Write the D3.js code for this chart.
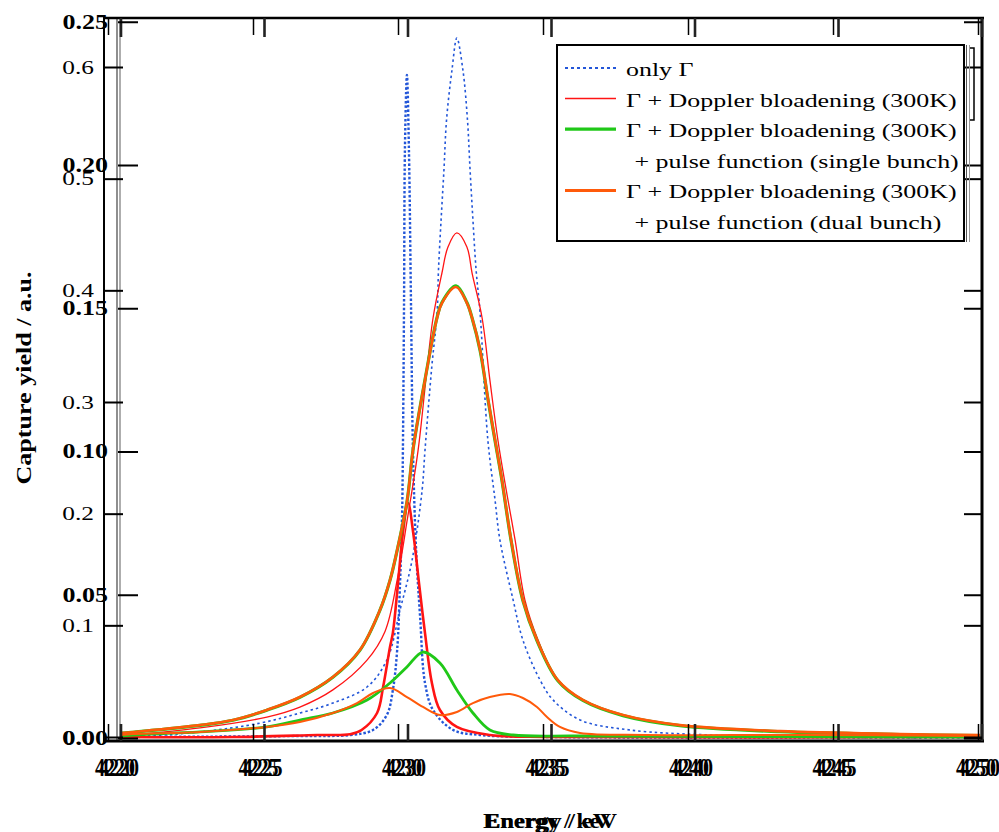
<!DOCTYPE html>
<html>
<head>
<meta charset="utf-8">
<script src="https://cdn.jsdelivr.net/npm/d3@7"></script>
<style>
  body { margin: 0; background: #fff; }
  svg { display: block; }
</style>
</head>
<body>
<svg id="chart" width="999" height="832"></svg>
<script>
"use strict";

// tick values and labels (two overlaid plot frames)
const xTicks = [4220, 4225, 4230, 4235, 4240, 4245, 4250];
const xLabels = ["4220", "4225", "4230", "4235", "4240", "4245", "4250"];
const yTicksA = [0, 0.1, 0.2, 0.3, 0.4, 0.5, 0.6];
const yLabelsA = ["0.0", "0.1", "0.2", "0.3", "0.4", "0.5", "0.6"];
const yTicksB = [0, 0.05, 0.1, 0.15, 0.2, 0.25];
const yLabelsB = ["0.00", "0.05", "0.10", "0.15", "0.20", "0.25"];

const legendLabels = [
  ["only Γ"],
  ["Γ + Doppler bloadening (300K)"],
  ["Γ + Doppler bloadening (300K)", " + pulse function (single bunch)"],
  ["Γ + Doppler bloadening (300K)", " + pulse function (dual bunch)"],
];

// broad resonance (right axis scale 0 - 0.25): [energy eV, yield]
const onlyGammaWide = [
  [4220.0, 0.0003], [4220.44, 0.0004], [4222.77, 0.0021], [4224.86, 0.0052],
  [4226.25, 0.0087], [4227.4, 0.0122], [4228.59, 0.0178], [4229.28, 0.0272],
  [4229.74, 0.0447], [4230.16, 0.0621], [4230.51, 0.0866], [4230.61, 0.1005],
  [4230.85, 0.13], [4231.03, 0.1483], [4231.08, 0.1634], [4231.17, 0.1808],
  [4231.27, 0.1983], [4231.36, 0.2157], [4231.55, 0.2332], [4231.72, 0.2443],
  [4231.93, 0.2332], [4232.09, 0.2157], [4232.18, 0.1983], [4232.28, 0.1808],
  [4232.39, 0.1634], [4232.53, 0.1483], [4232.8, 0.104], [4233.05, 0.0831],
  [4233.22, 0.0691], [4233.68, 0.0482], [4234.02, 0.0342], [4234.62, 0.0202],
  [4235.07, 0.0133], [4236.01, 0.0063], [4237.75, 0.0028], [4240.64, 0.001],
  [4243.68, 0.0003], [4249.95, 0.0],
];
const dopplerWide = [
  [4220.0, 0.0007], [4222.77, 0.0035], [4225.1, 0.0073], [4226.25, 0.0108],
  [4227.4, 0.0168], [4228.59, 0.0272], [4229.22, 0.0373], [4229.64, 0.0551],
  [4229.99, 0.0761], [4230.37, 0.1005], [4230.64, 0.125], [4230.89, 0.1466],
  [4231.2, 0.1623], [4231.41, 0.1714], [4231.72, 0.1763], [4232.07, 0.1714],
  [4232.25, 0.1623], [4232.6, 0.1466], [4232.87, 0.125], [4233.15, 0.104],
  [4233.5, 0.0831], [4233.75, 0.0691], [4234.09, 0.0482], [4234.55, 0.0342],
  [4235.24, 0.0202], [4236.11, 0.0133], [4237.51, 0.008], [4239.49, 0.0045],
  [4242.98, 0.0024], [4247.16, 0.0014], [4249.95, 0.0007],
];
const singleWide = [
  [4220.0, 0.0016], [4220.44, 0.002], [4222.77, 0.0044], [4223.92, 0.0062],
  [4225.1, 0.0097], [4226.25, 0.0142], [4227.4, 0.0212], [4228.34, 0.0306],
  [4229.04, 0.0446], [4229.39, 0.055], [4229.64, 0.0655], [4229.99, 0.083],
  [4230.19, 0.1004], [4230.61, 0.1251], [4231.03, 0.1468], [4231.2, 0.152],
  [4231.69, 0.1578], [4232.07, 0.152], [4232.25, 0.1466], [4232.53, 0.1352],
  [4232.81, 0.1178], [4233.05, 0.1038], [4233.29, 0.0899], [4233.61, 0.0689],
  [4234.02, 0.048], [4234.51, 0.034], [4235.24, 0.02], [4236.11, 0.0131],
  [4237.51, 0.0078], [4239.49, 0.0043], [4242.98, 0.0022], [4247.16, 0.0012],
  [4249.95, 0.0008],
];
const dualWide = [
  [4220.0, 0.0017], [4220.44, 0.0021], [4222.77, 0.0045], [4223.92, 0.0063],
  [4225.1, 0.0098], [4226.25, 0.0143], [4227.4, 0.0213], [4228.34, 0.0307],
  [4229.04, 0.0447], [4229.39, 0.0551], [4229.64, 0.0656], [4229.99, 0.0831],
  [4230.19, 0.1005], [4230.61, 0.125], [4231.03, 0.1466], [4231.2, 0.1518],
  [4231.69, 0.1574], [4232.07, 0.1518], [4232.25, 0.1466], [4232.53, 0.1354],
  [4232.81, 0.118], [4233.05, 0.104], [4233.29, 0.0901], [4233.61, 0.0691],
  [4234.02, 0.0482], [4234.51, 0.0342], [4235.24, 0.0202], [4236.11, 0.0133],
  [4237.51, 0.008], [4239.49, 0.0045], [4242.98, 0.0024], [4247.16, 0.0014],
  [4249.95, 0.001],
];

// narrow resonance (left axis scale 0 - 0.6)
const onlyGammaNarrow = [
  [4220.0, 0.0], [4226.25, 0.0009], [4228.0, 0.0018], [4228.8, 0.0063],
  [4229.28, 0.0197], [4229.49, 0.0421], [4229.64, 0.0779], [4229.74, 0.1379],
  [4229.81, 0.197], [4229.84, 0.257], [4229.88, 0.3913], [4229.91, 0.5257],
  [4229.98, 0.5928], [4230.05, 0.5257], [4230.12, 0.3913], [4230.19, 0.257],
  [4230.3, 0.1675], [4230.44, 0.1075], [4230.61, 0.0484], [4230.89, 0.0242],
  [4231.59, 0.0063], [4232.53, 0.0018], [4234.97, 0.0], [4249.95, 0.0],
];
const dopplerNarrow = [
  [4220.0, 0.0], [4223.92, 0.0], [4226.85, 0.0018], [4228.0, 0.0025],
  [4228.4, 0.0063], [4228.94, 0.0215], [4229.15, 0.0448], [4229.39, 0.0806],
  [4229.49, 0.0931], [4229.67, 0.1379], [4229.84, 0.1827], [4230.02, 0.2095],
  [4230.2, 0.1827], [4230.4, 0.1379], [4230.61, 0.0931], [4230.85, 0.0484],
  [4231.13, 0.0242], [4231.72, 0.009], [4232.87, 0.0018], [4234.97, 0.0],
  [4249.95, 0.0],
];
const singleBunch = [
  [4220.0, 0.0009], [4220.44, 0.0018], [4222.77, 0.0045], [4225.1, 0.009],
  [4226.25, 0.0152], [4227.4, 0.0215], [4228.59, 0.0331], [4229.39, 0.0484],
  [4229.98, 0.0627], [4230.54, 0.0761], [4231.13, 0.0663], [4231.72, 0.0421],
  [4232.28, 0.0215], [4232.87, 0.0063], [4233.68, 0.0018], [4236.01, 0.0009],
  [4249.95, 0.0],
];
const dualBunch = [
  [4220.0, 0.0018], [4220.44, 0.0027], [4222.77, 0.0045], [4225.1, 0.009],
  [4226.25, 0.0134], [4227.4, 0.0215], [4228.24, 0.0304], [4228.8, 0.0394],
  [4229.39, 0.0439], [4229.98, 0.0358], [4230.54, 0.0269], [4231.13, 0.0197],
  [4231.72, 0.0224], [4232.28, 0.0304], [4232.87, 0.0358], [4233.57, 0.0385],
  [4234.02, 0.0349], [4234.51, 0.0269], [4234.86, 0.0179], [4235.31, 0.009],
  [4236.01, 0.0036], [4238.34, 0.0018], [4243.68, 0.0018], [4249.95, 0.0009],
];

const blue = "#2356d8";
const red = "#ff1414";
const green = "#20c818";
const orange = "#ff5a0a";
const serif = "'Liberation Serif', 'Times New Roman', serif";

const svg = d3.select("#chart");

const xA = d3.scaleLinear().domain([4220, 4250]).range([108, 978]);
const xB = d3.scaleLinear().domain([4220, 4250]).range([120.5, 981.5]);
const yA = d3.scaleLinear().domain([0, 0.6]).range([737, 67]);
const yB = d3.scaleLinear().domain([0, 0.25]).range([738, 21.75]);

// stretch text horizontally (the reference is wider than it is tall)
const stretch = (sel, sx) => {
  sel.each(function () {
    const t = d3.select(this);
    const x = +t.attr("x") || 0;
    t.attr("x", x / sx).attr("transform", `scale(${sx},1)`);
  });
};

svg.append("clipPath").attr("id", "plot")
  .append("rect").attr("x", 104).attr("y", 18).attr("width", 878).attr("height", 722);

const curves = svg.append("g").attr("clip-path", "url(#plot)");

const smooth = d3.curveCatmullRom.alpha(0.5);
const lineB = d3.line().x((d) => xB(d[0])).y((d) => yB(d[1])).curve(smooth);
const lineA = d3.line().x((d) => xB(d[0])).y((d) => yA(d[1])).curve(smooth);

const series = [
  { data: onlyGammaWide, line: lineB, color: blue, width: 1.6, dash: "2.5,3" },
  { data: onlyGammaNarrow, line: lineA, color: blue, width: 2.4, dash: "2.5,2" },
  { data: dopplerWide, line: lineB, color: red, width: 1.3 },
  { data: dopplerNarrow, line: lineA, color: red, width: 2.6 },
  { data: singleWide, line: lineB, color: green, width: 3.2 },
  { data: singleBunch, line: lineA, color: green, width: 2.8 },
  { data: dualWide, line: lineB, color: orange, width: 2.6 },
  { data: dualBunch, line: lineA, color: orange, width: 2 },
];

series.forEach((s) => {
  curves.append("path")
    .attr("d", s.line(s.data))
    .attr("fill", "none")
    .attr("stroke", s.color)
    .attr("stroke-width", s.width)
    .attr("stroke-dasharray", s.dash || null)
    .attr("stroke-linejoin", "round");
});

// frames
const frame = svg.append("g").attr("stroke", "#000").attr("fill", "none");
frame.append("line").attr("x1", 104).attr("x2", 104).attr("y1", 17).attr("y2", 742).attr("stroke-width", 2);
frame.append("line").attr("x1", 117).attr("x2", 117).attr("y1", 18).attr("y2", 741).attr("stroke-width", 1.2).attr("stroke", "#444");
frame.append("line").attr("x1", 120).attr("x2", 120).attr("y1", 18).attr("y2", 741).attr("stroke-width", 1.2).attr("stroke", "#777");
frame.append("line").attr("x1", 103).attr("x2", 984).attr("y1", 18).attr("y2", 18).attr("stroke-width", 2.5);
frame.append("line").attr("x1", 103).attr("x2", 984).attr("y1", 741).attr("y2", 741).attr("stroke-width", 3);
frame.append("line").attr("x1", 982).attr("x2", 982).attr("y1", 17).attr("y2", 742).attr("stroke-width", 3);

const styleAxis = (g, w, color) => {
  g.select(".domain").remove();
  g.selectAll("line").attr("stroke", color).attr("stroke-width", w);
};

// x ticks, frame A and frame B
svg.append("g").attr("transform", "translate(0,741)")
  .call(d3.axisBottom(xA).tickValues(xTicks).tickSize(-17).tickFormat(""))
  .call((g) => styleAxis(g, 1.5, "#000"));
svg.append("g").attr("transform", "translate(0,741)")
  .call(d3.axisBottom(xB).tickValues(xTicks).tickSize(-17).tickFormat(""))
  .call((g) => styleAxis(g, 2.6, "#222"));
svg.append("g").attr("transform", "translate(0,18)")
  .call(d3.axisTop(xA).tickValues(xTicks).tickSize(-17).tickFormat(""))
  .call((g) => styleAxis(g, 1.5, "#000"));
svg.append("g").attr("transform", "translate(0,18)")
  .call(d3.axisTop(xB).tickValues(xTicks).tickSize(-19).tickFormat(""))
  .call((g) => styleAxis(g, 2.6, "#222"));

// x tick labels, two overlapping label sets
[-6, -2].forEach((dx) => {
  svg.append("g").attr("transform", `translate(${dx},741)`)
    .call(d3.axisBottom(xB).tickValues(xTicks).tickSize(0).tickPadding(17)
      .tickFormat((d, i) => xLabels[i]))
    .call((g) => g.select(".domain").remove())
    .call((g) => g.selectAll("text")
      .attr("font-family", serif).attr("font-size", 25).attr("font-weight", "bold")
      .attr("fill", "#000").call(stretch, 0.8));
});

// y axis A (0 - 0.6)
svg.append("g").attr("transform", "translate(104,0)")
  .call(d3.axisLeft(yA).tickValues(yTicksA).tickSize(-19).tickPadding(10)
    .tickFormat((d, i) => yLabelsA[i]))
  .call((g) => styleAxis(g, 2, "#000"))
  .call((g) => g.selectAll("text")
    .attr("font-family", serif).attr("font-size", 19.5).attr("fill", "#000")
    .call(stretch, 1.3));
svg.append("g").attr("transform", "translate(982,0)")
  .call(d3.axisRight(yA).tickValues(yTicksA).tickSize(-18).tickFormat(""))
  .call((g) => styleAxis(g, 2, "#000"));

// y axis B (0 - 0.25)
svg.append("g").attr("transform", "translate(118,0)")
  .call(d3.axisLeft(yB).tickValues(yTicksB).tickSize(-20).tickPadding(10)
    .tickFormat((d, i) => yLabelsB[i]))
  .call((g) => styleAxis(g, 2, "#000"))
  .call((g) => g.selectAll("text")
    .attr("font-family", serif).attr("font-size", 20).attr("font-weight", "bold")
    .attr("fill", "#000").call(stretch, 1.3));
svg.append("g").attr("transform", "translate(982,0)")
  .call(d3.axisRight(yB).tickValues(yTicksB).tickSize(-18).tickFormat(""))
  .call((g) => styleAxis(g, 2, "#000"));

// axis titles
svg.append("text")
  .attr("transform", "translate(31,378) rotate(-90)")
  .attr("text-anchor", "middle")
  .attr("font-family", serif).attr("font-weight", "bold").attr("font-size", 20)
  .attr("textLength", 213).attr("lengthAdjust", "spacingAndGlyphs")
  .text("Capture yield / a.u.");
svg.append("text")
  .attr("x", 483).attr("y", 828)
  .attr("font-family", serif).attr("font-weight", "bold").attr("font-size", 21)
  .attr("textLength", 128).attr("lengthAdjust", "spacingAndGlyphs")
  .text("Energy / eV");
svg.append("text")
  .attr("x", 485).attr("y", 828)
  .attr("font-family", serif).attr("font-weight", "bold").attr("font-size", 21)
  .attr("textLength", 132).attr("lengthAdjust", "spacingAndGlyphs")
  .text("Energy / keV");

// legend
const legend = svg.append("g");
legend.append("rect")
  .attr("x", 557).attr("y", 45).attr("width", 407).attr("height", 196)
  .attr("fill", "#fff").attr("stroke", "#000").attr("stroke-width", 2);
legend.append("line").attr("x1", 966.5).attr("x2", 966.5).attr("y1", 45).attr("y2", 242)
  .attr("stroke", "#555").attr("stroke-width", 1);
legend.append("line").attr("x1", 969.5).attr("x2", 969.5).attr("y1", 45).attr("y2", 242)
  .attr("stroke", "#999").attr("stroke-width", 1);
legend.append("path").attr("d", "M970,48H974V120H970")
  .attr("fill", "none").attr("stroke", "#000").attr("stroke-width", 1.5);

const legendStyle = [
  { color: blue, width: 2, dash: "3,3" },
  { color: red, width: 1.5 },
  { color: green, width: 3.2 },
  { color: orange, width: 3 },
];
let row = 0;
legendLabels.forEach((lines, i) => {
  const base = 76 + row * 30.6;
  legend.append("line")
    .attr("x1", 565).attr("x2", 616).attr("y1", base - 8).attr("y2", base - 8)
    .attr("stroke", legendStyle[i].color).attr("stroke-width", legendStyle[i].width)
    .attr("stroke-dasharray", legendStyle[i].dash || null);
  lines.forEach((txt, j) => {
    legend.append("text")
      .attr("x", j === 0 ? 626 : 628).attr("y", base + j * 30.6)
      .attr("font-family", serif).attr("font-size", 19.5).attr("fill", "#000")
      .attr("xml:space", "preserve")
      .text(txt)
      .call(stretch, 1.33);
  });
  row += lines.length;
});
</script>
</body>
</html>
